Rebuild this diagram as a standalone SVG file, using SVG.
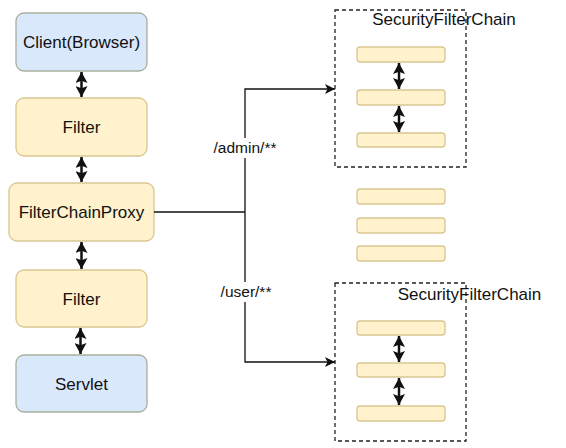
<svg xmlns="http://www.w3.org/2000/svg" width="566" height="448" viewBox="0 0 566 448">
<style>
.blue{fill:#dae8fc;stroke:#a8ae9f;stroke-width:1.3}
.yel{fill:#fff2cc;stroke:#d9c690;stroke-width:1.3}
.t{font-family:"Liberation Sans",Arial,sans-serif;font-size:17px;fill:#111;text-anchor:middle}
.lbl{font-family:"Liberation Sans",Arial,sans-serif;font-size:15.5px;fill:#111;text-anchor:middle}
.dash{fill:none;stroke:#222;stroke-width:1.3;stroke-dasharray:4 3}
.line{fill:none;stroke:#111;stroke-width:1.3}
.dbl{fill:none;stroke:#111;stroke-width:2.5}
</style>
<defs>
<marker id="ah" viewBox="0 0 10 10" refX="10" refY="5" markerWidth="10" markerHeight="10" markerUnits="userSpaceOnUse" orient="auto">
<path d="M0,0 L10,5 L0,10 L2.5,5 Z" fill="#111"/>
</marker>
<marker id="dh" viewBox="0 0 10 10" refX="10" refY="5" markerWidth="11" markerHeight="12" markerUnits="userSpaceOnUse" orient="auto-start-reverse" preserveAspectRatio="none">
<path d="M0,0 L10,5 L0,10 L2,5 Z" fill="#111"/>
</marker>
</defs>

<g id="client"><rect class="blue" x="16" y="13" width="131" height="58" rx="8"/><text class="t" x="81.5" y="48">Client(Browser)</text></g>
<g id="filter1"><rect class="yel" x="16" y="98" width="131" height="58" rx="8"/><text class="t" x="81.5" y="133">Filter</text></g>
<g id="proxy"><rect class="yel" x="9" y="183" width="145" height="58" rx="8"/><text class="t" x="81.5" y="218">FilterChainProxy</text></g>
<g id="filter2"><rect class="yel" x="16" y="270" width="131" height="57" rx="8"/><text class="t" x="81.5" y="305">Filter</text></g>
<g id="servlet"><rect class="blue" x="16" y="355" width="131" height="57" rx="8"/><text class="t" x="81.5" y="390">Servlet</text></g>

<g id="chain1">
<rect class="dash" x="335" y="10" width="131" height="157"/>
<text class="t" x="444" y="25">SecurityFilterChain</text>
<rect class="yel" x="357" y="47" width="88" height="15" rx="3"/>
<rect class="yel" x="357" y="90" width="88" height="15" rx="3"/>
<rect class="yel" x="357" y="133" width="88" height="14" rx="3"/>
</g>
<g id="loose">
<rect class="yel" x="357" y="189" width="88" height="15" rx="3"/>
<rect class="yel" x="357" y="218" width="88" height="15" rx="3"/>
<rect class="yel" x="357" y="246" width="88" height="15" rx="3"/>
</g>
<g id="chain2">
<rect class="dash" x="335" y="283" width="131" height="158"/>
<text class="t" x="469.5" y="300">SecurityFilterChain</text>
<rect class="yel" x="357" y="321" width="88" height="14" rx="3"/>
<rect class="yel" x="357" y="363" width="88" height="14" rx="3"/>
<rect class="yel" x="357" y="406" width="88" height="15" rx="3"/>
</g>

<g id="connectors">
<line class="dbl" x1="81.5" y1="72" x2="81.5" y2="97" marker-start="url(#dh)" marker-end="url(#dh)"/>
<line class="dbl" x1="81.5" y1="157" x2="81.5" y2="182" marker-start="url(#dh)" marker-end="url(#dh)"/>
<line class="dbl" x1="81.5" y1="242" x2="81.5" y2="269" marker-start="url(#dh)" marker-end="url(#dh)"/>
<line class="dbl" x1="80.5" y1="328" x2="80.5" y2="354" marker-start="url(#dh)" marker-end="url(#dh)"/>
<line class="dbl" x1="399" y1="63" x2="399" y2="89" marker-start="url(#dh)" marker-end="url(#dh)"/>
<line class="dbl" x1="399" y1="106" x2="399" y2="132" marker-start="url(#dh)" marker-end="url(#dh)"/>
<line class="dbl" x1="399" y1="336" x2="399" y2="362" marker-start="url(#dh)" marker-end="url(#dh)"/>
<line class="dbl" x1="399" y1="378" x2="399" y2="405" marker-start="url(#dh)" marker-end="url(#dh)"/>
<path class="line" d="M154,212 H245"/>
<path class="line" d="M245,212 V89 H335" marker-end="url(#ah)"/>
<path class="line" d="M245,212 V362 H335" marker-end="url(#ah)"/>
<rect x="210" y="138" width="70" height="20" fill="#fff"/>
<text class="lbl" x="245" y="153">/admin/**</text>
<rect x="219" y="282" width="54" height="20" fill="#fff"/>
<text class="lbl" x="246" y="297">/user/**</text>
</g>
</svg>
